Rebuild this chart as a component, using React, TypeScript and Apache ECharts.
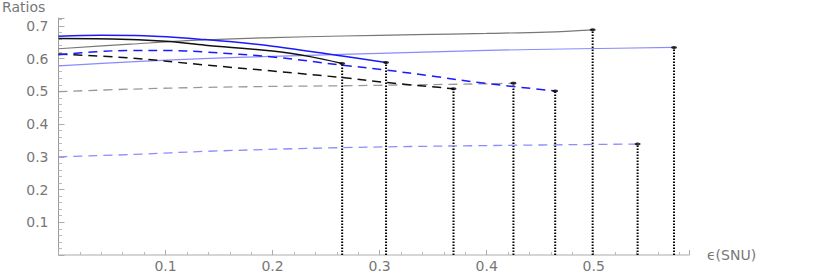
import React, { useEffect, useRef } from "react";
import * as echarts from "echarts";

// ---- data ----
const xTickLabels = ["0.1", "0.2", "0.3", "0.4", "0.5"];
const yTickLabels = ["0.1", "0.2", "0.3", "0.4", "0.5", "0.6", "0.7"];

const blackSolid: [number, number][] = [
  [0, 0.661], [0.05, 0.660], [0.1, 0.653], [0.137, 0.641], [0.2, 0.623], [0.235, 0.606], [0.265, 0.585],
];
const blueSolid: [number, number][] = [
  [0, 0.668], [0.04, 0.671], [0.08, 0.670], [0.137, 0.658], [0.2, 0.638], [0.265, 0.608], [0.306, 0.588],
];
const graySolid: [number, number][] = [
  [0, 0.630], [0.067, 0.644], [0.135, 0.657], [0.2, 0.664], [0.265, 0.669], [0.333, 0.673], [0.4, 0.677], [0.456, 0.681], [0.499, 0.688],
];
const blueDashed: [number, number][] = [
  [0, 0.612], [0.035, 0.621], [0.07, 0.625], [0.1, 0.625], [0.137, 0.620], [0.2, 0.605], [0.265, 0.580], [0.306, 0.565], [0.35, 0.546], [0.4, 0.524], [0.464, 0.501],
];
const blackDashed: [number, number][] = [
  [0, 0.614], [0.067, 0.602], [0.135, 0.581], [0.2, 0.562], [0.265, 0.542], [0.306, 0.527], [0.369, 0.508],
];
const grayDashed: [number, number][] = [
  [0, 0.499], [0.07, 0.507], [0.137, 0.512], [0.2, 0.515], [0.265, 0.517], [0.333, 0.520], [0.4, 0.523], [0.425, 0.525],
];
const lightBlueSolid: [number, number][] = [
  [0, 0.578], [0.067, 0.590], [0.135, 0.600], [0.2, 0.607], [0.265, 0.613], [0.333, 0.619], [0.4, 0.625], [0.487, 0.630], [0.575, 0.634],
];
const lightBlueDashed: [number, number][] = [
  [0, 0.300], [0.069, 0.307], [0.14, 0.317], [0.265, 0.328], [0.392, 0.334], [0.541, 0.339],
];

const FONT = "DejaVu Sans";
const LABEL_COLOR = "#777";

export default function App() {
  const ref = useRef<HTMLDivElement>(null);

  useEffect(() => {
    if (!ref.current) return;
    const chart = echarts.init(ref.current, null, { renderer: "svg" });

    const curves = [
      { data: graySolid, color: "#777777", width: 1.2, type: "solid" as any },
      { data: lightBlueSolid, color: "#8a8aff", width: 1.2, type: "solid" as any },
      { data: grayDashed, color: "#999999", width: 1.3, type: [9, 6] as any },
      { data: lightBlueDashed, color: "#8c8cff", width: 1.3, type: [9, 6] as any },
      { data: blackDashed, color: "#111111", width: 1.5, type: [9, 6] as any },
      { data: blueDashed, color: "#1a1aff", width: 1.5, type: [9, 6] as any },
      { data: blackSolid, color: "#111111", width: 1.5, type: "solid" as any },
      { data: blueSolid, color: "#1a1aff", width: 1.5, type: "solid" as any },
    ];

    const endpoints = curves.map((c) => c.data[c.data.length - 1]);

    const series: any[] = [];
    endpoints.forEach((p) => {
      series.push({
        type: "line",
        data: [[p[0], 0], [p[0], p[1]]],
        symbol: "none",
        silent: true,
        lineStyle: { color: "#000", width: 2, type: [1.5, 1.5] },
        z: 1,
      });
    });
    curves.forEach((c) => {
      series.push({
        type: "line",
        data: c.data,
        smooth: 0.35,
        symbol: "none",
        lineStyle: { color: c.color, width: c.width, type: c.type },
        z: 2,
      });
    });
    series.push({
      type: "scatter",
      data: endpoints,
      symbol: "circle",
      symbolSize: [6, 3],
      itemStyle: { color: "#000" },
      z: 3,
    });

    const fmt = (v: number, labels: string[]) => {
      const s = v.toFixed(1);
      return labels.includes(s) && Math.abs(v - Number(s)) < 1e-9 ? s : "";
    };

    chart.setOption({
      animation: false,
      title: {
        text: "Ratios",
        left: 2,
        top: 0,
        padding: 0,
        textStyle: { fontSize: 14, fontWeight: "normal", color: LABEL_COLOR, fontFamily: FONT },
      },
      grid: { left: 58.5, right: 141, top: 18, bottom: 16, containLabel: false },
      xAxis: {
        type: "value",
        min: 0,
        max: 0.589,
        interval: 0.1,
        name: "ϵ(SNU)",
        nameLocation: "end",
        nameGap: 18,
        nameTextStyle: { fontSize: 14, color: LABEL_COLOR, fontFamily: FONT, align: "left", verticalAlign: "middle" },
        axisLine: { show: true, lineStyle: { color: "#c8c8c8", width: 1.5 } },
        axisTick: { show: true, inside: true, length: 5, lineStyle: { color: "#aaa" } },
        minorTick: { show: true, splitNumber: 5, length: 3, lineStyle: { color: "#bbb" } },
        splitLine: { show: false },
        axisLabel: {
          margin: 4,
          fontSize: 14,
          color: LABEL_COLOR,
          fontFamily: FONT,
          showMaxLabel: false,
          formatter: (v: number) => fmt(v, xTickLabels),
        },
      },
      yAxis: {
        type: "value",
        min: 0,
        max: 0.724,
        interval: 0.1,
        axisLine: { show: true, lineStyle: { color: "#999", width: 1 } },
        axisTick: { show: true, inside: true, length: 6, lineStyle: { color: "#aaa" } },
        minorTick: { show: true, splitNumber: 5, length: 3.5, lineStyle: { color: "#bbb" } },
        splitLine: { show: false },
        axisLabel: {
          margin: 10,
          fontSize: 14,
          color: LABEL_COLOR,
          fontFamily: FONT,
          showMaxLabel: false,
          formatter: (v: number) => fmt(v, yTickLabels),
        },
      },
      series,
    });

    return () => chart.dispose();
  }, []);

  return (
    <div
      ref={ref}
      style={{ position: "absolute", left: 0, top: 0, width: 830, height: 273, background: "#fff" }}
    />
  );
}
